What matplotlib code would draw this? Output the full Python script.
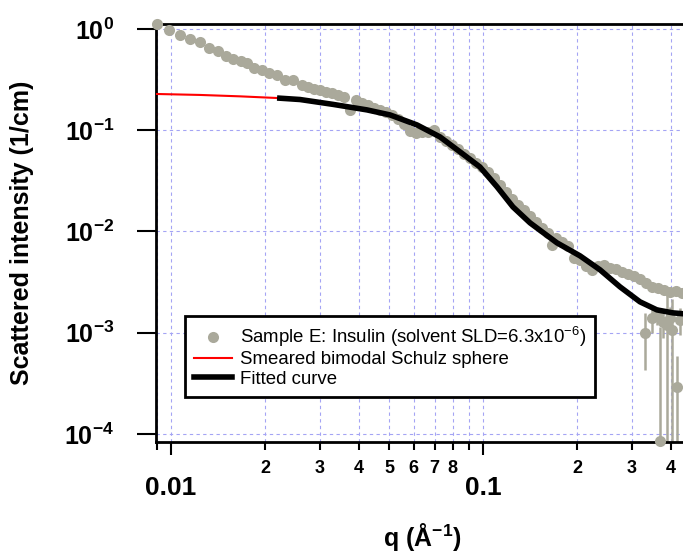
import matplotlib
matplotlib.use("Agg")
import matplotlib.pyplot as plt
from matplotlib.lines import Line2D
from matplotlib.ticker import NullLocator

# measured data, sample E (insulin)
q_data = [0.00902, 0.00985, 0.01069, 0.01150, 0.01239, 0.01324, 0.01415, 0.01501, 0.01580, 0.01677,
          0.01753, 0.01845, 0.01957, 0.02062, 0.02187, 0.02320, 0.02460, 0.02630, 0.02749,
          0.02873, 0.03004, 0.03141, 0.03281, 0.03430, 0.03585, 0.03747, 0.03916, 0.04094, 0.04279,
          0.04472, 0.04675, 0.04887, 0.05108, 0.05340, 0.05581, 0.05834, 0.06099, 0.06375, 0.06663,
          0.06965, 0.07281, 0.07611, 0.07955, 0.08317, 0.08693, 0.09086, 0.09497, 0.09926,
          0.1037, 0.1085, 0.1134, 0.1185, 0.1239, 0.1295, 0.1353, 0.1415, 0.1479, 0.1546, 0.1616,
          0.1664, 0.1714,
          0.1792, 0.1873, 0.1958, 0.2047, 0.2139, 0.2236, 0.2337, 0.2443, 0.2553, 0.2669, 0.2790,
          0.2916, 0.3048, 0.3186, 0.3331, 0.3481, 0.3639, 0.3804, 0.3976, 0.4156, 0.4344]
i_data = [1.12, 0.978, 0.873, 0.797, 0.744, 0.649, 0.606, 0.541, 0.506, 0.483,
          0.462, 0.412, 0.394, 0.368, 0.351, 0.314, 0.314, 0.280, 0.268,
          0.2557, 0.2499, 0.2388, 0.2334, 0.2231, 0.2132, 0.1587, 0.1991, 0.1860, 0.1777,
          0.1660, 0.1587, 0.1516, 0.1416, 0.1293, 0.1154, 0.0984, 0.0940, 0.0962, 0.0962,
          0.1007, 0.0859, 0.0784, 0.0716, 0.0654, 0.0583, 0.0533, 0.0476, 0.0434,
          0.0388, 0.0338, 0.0288, 0.0246, 0.0210, 0.0183, 0.0163, 0.01426, 0.01244, 0.01085, 0.00969,
          0.00737, 0.00865,
          0.00790, 0.00721, 0.00549, 0.00524, 0.00457, 0.00418, 0.00457, 0.00468, 0.00437, 0.00427, 0.00399,
          0.00381, 0.00365, 0.00340, 0.00311, 0.00284, 0.00277, 0.00265, 0.00253, 0.00259, 0.00248]

# noisy high-q points with visible error bars
q_noisy = [0.3304, 0.3481, 0.3612, 0.3692, 0.3775, 0.3888, 0.3976, 0.4036, 0.4187, 0.4280]
i_noisy = [0.000998, 0.00140, 0.00150, 0.0000857, 0.00128, 0.00120, 0.00140, 0.00107, 0.000292, 0.00134]
err_noisy = [0.00057, 0.0004, 0.0003, 0.00106, 0.0004, 0.00125, 0.0004, 0.0011, 0.0003, 0.0004]

# smeared bimodal Schulz sphere model
q_fit = [0.00895, 0.01239, 0.01664, 0.02187, 0.02590, 0.03304, 0.04247, 0.05035, 0.06142, 0.07279,
         0.08440, 0.09774, 0.1109, 0.1247, 0.1415, 0.1726, 0.2047, 0.2372, 0.2748, 0.3184,
         0.3610, 0.4064, 0.4375, 0.454]
i_fit = [0.228, 0.223, 0.216, 0.208, 0.201, 0.180, 0.1587, 0.1416, 0.1128, 0.0859,
         0.0611, 0.0434, 0.0276, 0.01749, 0.01216, 0.00772, 0.00574, 0.00418, 0.00284, 0.00202,
         0.00168, 0.00157, 0.00154, 0.00153]
fit_start = 3  # fitted range begins at q ~ 0.022

x_major = [0.01, 0.1]
x_major_labels = ['0.01', '0.1']
x_minor = [0.009, 0.02, 0.03, 0.04, 0.05, 0.06, 0.07, 0.08, 0.09, 0.2, 0.3, 0.4]
x_minor_labels = ['', '2', '3', '4', '5', '6', '7', '8', '', '2', '3', '4']
y_major = [1, 0.1, 0.01, 0.001, 0.0001]
y_major_labels = [r'$\mathbf{10^{0}}$', r'$\mathbf{10^{-1}}$', r'$\mathbf{10^{-2}}$',
                  r'$\mathbf{10^{-3}}$', r'$\mathbf{10^{-4}}$']

plt.rcParams['font.family'] = 'Liberation Sans'
plt.rcParams['mathtext.fontset'] = 'custom'
plt.rcParams['mathtext.rm'] = 'Liberation Sans'
plt.rcParams['mathtext.it'] = 'Liberation Sans:italic'
plt.rcParams['mathtext.bf'] = 'Liberation Sans:bold'

gray = '#aaa99b'
grid_col = '#a4a4f4'

fig = plt.figure(figsize=(6.83, 5.55), dpi=100)
ax = fig.add_axes([0.2284, 0.2036, 0.7789, 0.7532])

ax.errorbar(q_noisy, i_noisy, yerr=err_noisy, fmt='none', ecolor=gray, elinewidth=1.8, zorder=2)
ax.plot(q_data, i_data, 'o', color=gray, ms=8, mew=0, zorder=3, clip_on=False)
ax.plot(q_noisy, i_noisy, 'o', color=gray, ms=8, mew=0, zorder=3, clip_on=False)
ax.plot(q_fit, i_fit, color='red', lw=1.5, zorder=4)
ax.plot(q_fit[fit_start:], i_fit[fit_start:], color='black', lw=4, zorder=5,
        solid_joinstyle='round', solid_capstyle='butt')

ax.set_xscale('log')
ax.set_yscale('log')
ax.set_xlim(0.00895, 0.454)
ax.set_ylim(8.33e-5, 1.12)

ax.set_xticks(x_major, x_major_labels, fontweight='bold', fontsize=19)
ax.set_xticks(x_minor, x_minor_labels, minor=True, fontweight='bold', fontsize=13)
ax.set_yticks(y_major, y_major_labels, fontsize=18)
ax.yaxis.set_minor_locator(NullLocator())

ax.tick_params(axis='x', which='major', direction='out', length=9.5, width=1.5, pad=15)
ax.tick_params(axis='x', which='minor', direction='out', length=6, width=1.5, pad=7)
ax.tick_params(axis='y', which='major', direction='out', length=14, width=1.5, pad=16)

for s in ['left', 'bottom', 'top']:
    ax.spines[s].set_linewidth(2)
ax.spines['right'].set_visible(False)

ax.grid(True, which='major', axis='both', color=grid_col, ls=(0, (3, 3)), lw=0.8)
ax.grid(True, which='minor', axis='x', color=grid_col, ls=(0, (3, 3)), lw=0.8)
ax.set_axisbelow(True)

handles = [
    Line2D([], [], ls='none', marker='o', color=gray, ms=8, mew=0),
    Line2D([], [], color='red', lw=1.5),
    Line2D([], [], color='black', lw=4),
]
labels = ['Sample E: Insulin (solvent SLD=6.3x10$^{-6}$)',
          'Smeared bimodal Schulz sphere',
          'Fitted curve']
leg = ax.legend(handles, labels, loc='lower left', bbox_to_anchor=(0.0545, 0.1077),
                borderaxespad=0, fancybox=False, edgecolor='black', framealpha=1,
                fontsize=13.4, handlelength=2.0, handletextpad=0.45, labelspacing=0.12,
                borderpad=0.5)
leg.get_frame().set_linewidth(2)

ax.set_ylabel('Scattered intensity (1/cm)', fontsize=18, fontweight='bold')
ax.yaxis.set_label_coords(-0.252, 0.5)
ax.yaxis.label.set_va('center')
ax.set_xlabel(r'q (Å$\mathbf{^{-1}}$)', fontsize=18, fontweight='bold')
ax.xaxis.set_label_coords(0.5, -0.227)
ax.xaxis.label.set_va('center')

fig.savefig('out.png', dpi=100)
